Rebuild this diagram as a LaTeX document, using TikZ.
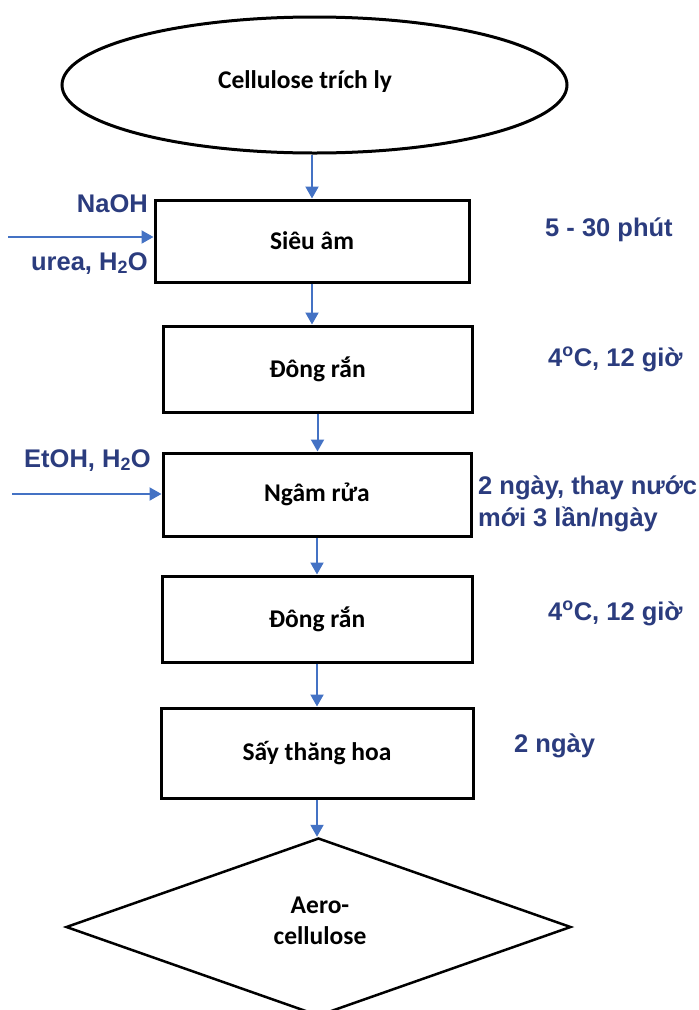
\documentclass[tikz,border=0pt]{standalone}
\usepackage{fontspec}
\setmainfont{Carlito}
\newfontfamily\blabel{Liberation Sans}
\usetikzlibrary{shapes.geometric,arrows.meta}
\definecolor{arrowblue}{HTML}{4472C4}
\definecolor{labelblue}{HTML}{2B3C7E}
\begin{document}
\begin{tikzpicture}[x=1pt,y=-1pt,
  boxtext/.style={font=\bfseries\fontsize{25.5}{31}\selectfont, text=black},
  stepbox/.style={draw=black, line width=3pt, rectangle, inner sep=0pt, boxtext},
  arr/.style={draw=arrowblue, line width=2pt, -{Triangle[width=13pt,length=12pt]}},
  lab/.style={text=labelblue, inner sep=0pt, font=\blabel\bfseries\fontsize{25.5}{33}\selectfont}]
\useasboundingbox (0,0) rectangle (699,1010);
\fill[white] (0,0) rectangle (699,1010);

% start ellipse
\node[draw=black, line width=3pt, ellipse, minimum width=505pt, minimum height=136pt, inner sep=0pt] (e) at (314.5,85) {};
\node[boxtext, inner sep=0pt] (et) at (305,82) {Cellulose trích ly};

% process boxes
\node[stepbox, minimum width=314pt, minimum height=82pt] (b1) at (312,241) {Siêu âm};
\node[stepbox, minimum width=309pt, minimum height=86pt] (b2) at (317.5,369) {Đông rắn};
\node[stepbox, minimum width=308pt, minimum height=83pt] (b3) at (317,494.5) {Ngâm rửa};
\node[stepbox, minimum width=310pt, minimum height=86pt] (b4) at (317,619) {Đông rắn};
\node[stepbox, minimum width=312pt, minimum height=90pt] (b5) at (317,753) {Sấy thăng hoa};

% end diamond
\node[draw=black, line width=2.5pt, diamond, minimum width=505pt, minimum height=178pt, inner sep=0pt] (d) at (318.5,927) {};
\node[boxtext, align=center, inner sep=0pt] (dt) at (320,921) {Aero-\\cellulose};

% vertical connectors
\draw[arr] (e.south -| b1.north) -- (b1.north);
\draw[arr] (b1.south) -- (b1.south |- b2.north);
\draw[arr] (b2.south) -- (b2.south |- b3.north);
\draw[arr] (b3.south) -- (b3.south |- b4.north);
\draw[arr] (b4.south) -- (b4.south |- b5.north);
\draw[arr] (b5.south) -- (b5.south |- d.north);

% side inputs
\coordinate (in1) at (8,237);
\coordinate (in3) at (12,494);
\draw[arr] (in1) -- (in1 -| b1.west);
\draw[arr] (in3) -- (in3 -| b3.west);

% left labels
\node[lab, anchor=base east] (l1) at (148,212) {NaOH};
\node[lab, anchor=base east] (l2) at (148,270) {urea, H\textsubscript{2}O};
\node[lab, anchor=base east] (l3) at (151,467) {EtOH, H\textsubscript{2}O};

% right labels
\node[lab, anchor=base west] (r1) at (545,236) {5 - 30 phút};
\node[lab, anchor=base west] (r2) at (548,366) {4\textsuperscript{o}C, 12 giờ};
\node[lab, anchor=base west] (r3a) at (478,494) {2 ngày, thay nước};
\node[lab, anchor=base west] (r3b) at (478,526) {mới 3 lần/ngày};
\node[lab, anchor=base west] (r4) at (548,620) {4\textsuperscript{o}C, 12 giờ};
\node[lab, anchor=base west] (r5) at (514,752) {2 ngày};
\end{tikzpicture}
\end{document}
